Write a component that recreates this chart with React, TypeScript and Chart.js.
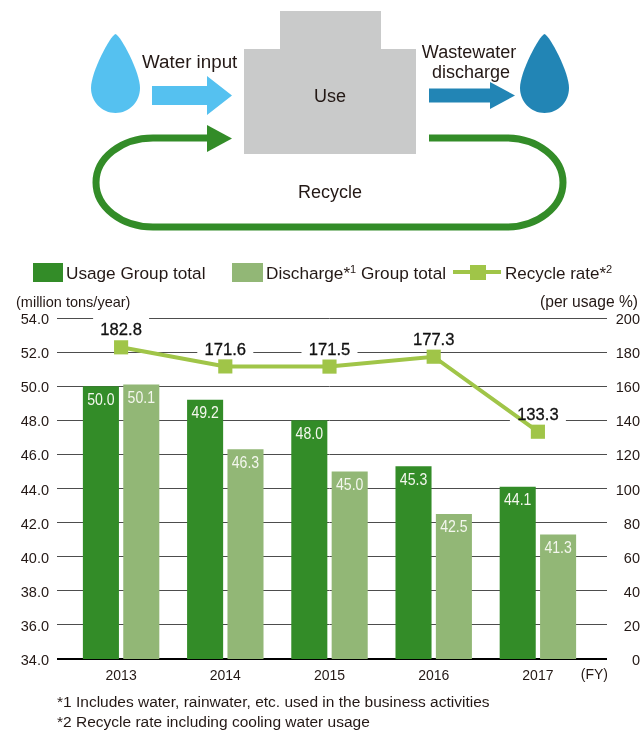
import React, { useEffect, useRef } from "react";
import { Chart, registerables } from "chart.js";

Chart.register(...registerables);

const years = ["2013", "2014", "2015", "2016", "2017"];
const usage = [50.0, 49.2, 48.0, 45.3, 44.1];
const discharge = [50.1, 46.3, 45.0, 42.5, 41.3];
const recycleRate = [182.8, 171.6, 171.5, 177.3, 133.3];

const DARK = "#338c28";
const LIGHT = "#92b776";
const LINE = "#a0c548";
const GRID = "#4d4d4d";
const TEXT = "#231815";
const FONT = '"Liberation Sans", Arial, sans-serif';

const labelsPlugin = {
  id: "valueLabels",
  beforeDatasetsDraw(chart: any) {
    const { ctx } = chart;
    const meta = chart.getDatasetMeta(2);
    ctx.save();
    ctx.fillStyle = "#ffffff";
    meta.data.forEach((p: any) => {
      ctx.fillRect(p.x - 28, p.y - 30, 56, 22);
    });
    ctx.restore();
  },
  afterDatasetsDraw(chart: any) {
    const { ctx } = chart;
    ctx.save();
    ctx.textAlign = "center";
    ctx.textBaseline = "middle";
    ctx.font = `16px ${FONT}`;
    ctx.fillStyle = "#f4f7ee";
    [0, 1].forEach((d) => {
      chart.getDatasetMeta(d).data.forEach((b: any, i: number) => {
        const v = chart.data.datasets[d].data[i];
        ctx.save();
        ctx.translate(b.x, b.y + 14);
        ctx.scale(0.88, 1);
        ctx.fillText(v.toFixed(1), 0, 0);
        ctx.restore();
      });
    });
    ctx.font = `16.6px ${FONT}`;
    ctx.fillStyle = "#111111";
    ctx.strokeStyle = "#111111";
    ctx.lineWidth = 0.3;
    chart.getDatasetMeta(2).data.forEach((p: any, i: number) => {
      const t = recycleRate[i].toFixed(1);
      ctx.fillText(t, p.x, p.y - 16.5);
      ctx.strokeText(t, p.x, p.y - 16.5);
    });
    ctx.restore();
  },
};

function App() {
  const ref = useRef<HTMLCanvasElement>(null);
  useEffect(() => {
    const gridColor = (c: any) => (c.tick && c.tick.value === (c.scale.id === "y" ? 34 : 0) ? "#000000" : GRID);
    const gridWidth = (c: any) => (c.tick && c.tick.value === (c.scale.id === "y" ? 34 : 0) ? 2 : 1);
    const chart = new Chart(ref.current as HTMLCanvasElement, {
      type: "bar",
      data: {
        labels: years,
        datasets: [
          { type: "bar", label: "Usage Group total", data: usage, backgroundColor: DARK, yAxisID: "y", order: 2, categoryPercentage: 0.775, barPercentage: 0.893 },
          { type: "bar", label: "Discharge Group total", data: discharge, backgroundColor: LIGHT, yAxisID: "y", order: 2, categoryPercentage: 0.775, barPercentage: 0.893 },
          { type: "line", label: "Recycle rate", data: recycleRate, borderColor: LINE, backgroundColor: LINE, borderWidth: 4, pointStyle: "rect", pointRadius: 10, pointBorderWidth: 0, yAxisID: "y2", order: 1, tension: 0 },
        ] as any,
      },
      options: {
        responsive: false,
        animation: false,
        layout: { padding: { top: 318, left: 0, right: 0, bottom: 0 } },
        plugins: { legend: { display: false }, tooltip: { enabled: false } },
        scales: {
          x: {
            grid: { display: false },
            border: { display: false },
            ticks: { color: TEXT, font: { family: FONT, size: 14 }, padding: 1 },
            afterFit: (s: any) => { s.height = 73; },
          },
          y: {
            min: 34,
            max: 54,
            position: "left",
            border: { display: false },
            grid: { color: gridColor, lineWidth: gridWidth, tickColor: gridColor, tickWidth: gridWidth, tickLength: 12 },
            ticks: { stepSize: 2, color: TEXT, padding: 8, labelOffset: 2, font: { family: FONT, size: 14.5 }, callback: (v: any) => Number(v).toFixed(1) },
            afterFit: (s: any) => { s.width = 69; },
          },
          y2: {
            min: 0,
            max: 200,
            position: "right",
            border: { display: false },
            grid: { drawOnChartArea: false, color: gridColor, lineWidth: gridWidth, tickColor: gridColor, tickWidth: gridWidth, tickLength: 17 },
            ticks: { stepSize: 20, color: TEXT, padding: 8, labelOffset: 2, crossAlign: "far", font: { family: FONT, size: 14.5 } },
            afterFit: (s: any) => { s.width = 50; },
          },
        },
      } as any,
      plugins: [labelsPlugin],
    });
    return () => chart.destroy();
  }, []);

  const t = { fontFamily: FONT, fill: TEXT };
  return (
    <div style={{ position: "absolute", left: 0, top: 0, width: 640, height: 732, background: "#fff" }}>
      <canvas ref={ref} width={640} height={732} style={{ position: "absolute", left: 0, top: 0 }} />
      <svg width={640} height={732} style={{ position: "absolute", left: 0, top: 0, pointerEvents: "none" }}>
        {/* process diagram */}
        <path d="M280 11H381V49H416V154H244V49H280Z" fill="#c9caca" />
        <path d="M115.5 34C110 36 91 72 91 88C91 102 102 113 115.5 113C129 113 140 102 140 88C140 72 121 36 115.5 34Z" fill="#55c1f0" />
        <path d="M544.5 34C539 36 520 72 520 88C520 102 531 113 544.5 113C558 113 569 102 569 88C569 72 550 36 544.5 34Z" fill="#2285b5" />
        <path d="M152 86H207V76L232 95.5L207 115V105H152Z" fill="#55c1f0" />
        <path d="M429 88.5H490V82L515 95.5L490 109V102.5H429Z" fill="#2285b5" />
        <path d="M429 138H506A57 44.5 0 0 1 506 227H153A57 44.5 0 0 1 153 138H210" fill="none" stroke={DARK} strokeWidth={7} />
        <path d="M207 125L232 138.5L207 152Z" fill={DARK} />
        <text x={142} y={68} fontSize={18.8} {...t}>Water input</text>
        <text x={330} y={102} fontSize={18} textAnchor="middle" {...t}>Use</text>
        <text x={469} y={58} fontSize={18} textAnchor="middle" {...t}>Wastewater</text>
        <text x={471} y={78} fontSize={18} textAnchor="middle" {...t}>discharge</text>
        <text x={330} y={198} fontSize={18} textAnchor="middle" {...t}>Recycle</text>

        {/* legend */}
        <rect x={33} y={263} width={30} height={19} fill={DARK} />
        <text x={66} y={279} fontSize={17.2} {...t}>Usage Group total</text>
        <rect x={232} y={263} width={31} height={19} fill={LIGHT} />
        <text x={266} y={279} fontSize={17.2} {...t}>
          Discharge*<tspan fontSize={11} dy={-6}>1</tspan><tspan dy={6}> Group total</tspan>
        </text>
        <line x1={453} y1={272} x2={501} y2={272} stroke={LINE} strokeWidth={4} />
        <rect x={470} y={265} width={16} height={15} fill={LINE} />
        <text x={505} y={279} fontSize={17} {...t}>
          Recycle rate*<tspan fontSize={11} dy={-6}>2</tspan>
        </text>

        {/* units */}
        <text x={16} y={307} fontSize={14.5} {...t}>(million tons/year)</text>
        <text x={638} y={307} fontSize={15.6} textAnchor="end" {...t}>(per usage %)</text>
        <text x={608} y={679} fontSize={14} textAnchor="end" {...t}>(FY)</text>

        {/* footnotes */}
        <text x={57} y={707} fontSize={15.5} {...t}>*1 Includes water, rainwater, etc. used in the business activities</text>
        <text x={57} y={727} fontSize={15.5} {...t}>*2 Recycle rate including cooling water usage</text>
      </svg>
    </div>
  );
}

export default App;
